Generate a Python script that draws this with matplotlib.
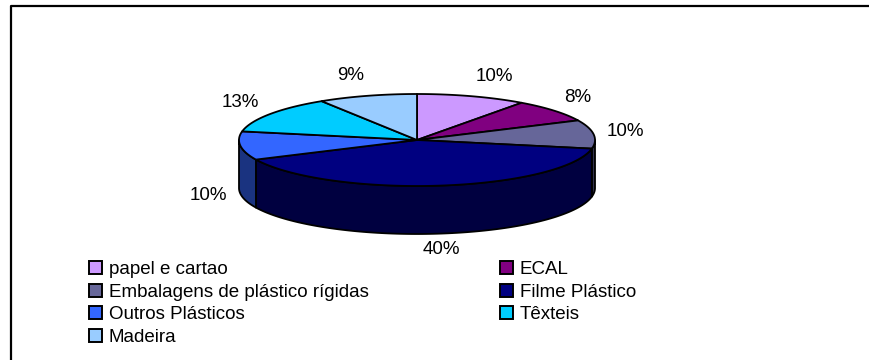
import numpy as np
import matplotlib
matplotlib.use("Agg")
from matplotlib import pyplot as plt
from matplotlib.patches import Polygon, Patch
from matplotlib.colors import to_rgb

plt.rcParams['font.family'] = ['Liberation Sans', 'DejaVu Sans']

categories = ['papel e cartao', 'ECAL', 'Embalagens de plástico rígidas',
              'Filme Plástico', 'Outros Plásticos', 'Têxteis', 'Madeira']
shares = [10, 8, 10, 40, 10, 13, 9]
colors = ['#CC99FF', '#800080', '#666699', '#000080', '#3366FF', '#00CCFF', '#99CCFF']

W, H = 870, 360
cx, cy, rx, ry, depth = 417, 140, 178, 46, 48
fs = 13.5

def rim(t0, t1, drop=0, n=120):
    # points on the ellipse rim, angle measured clockwise from 12 o'clock
    t = np.radians(np.linspace(t0, t1, n))
    return np.column_stack([cx + rx * np.sin(t), cy - ry * np.cos(t) + drop])

fig = plt.figure(figsize=(W / 100, H / 100), dpi=100)
ax = fig.add_axes([0, 0, 1, 1])
ax.set_xlim(0, W)
ax.set_ylim(H, 0)
ax.axis('off')

# chart frame (only top and left edges fall inside the image)
ax.plot([11, 11, W + 5], [H + 5, 6, 6], color='black', lw=1.6, solid_capstyle='butt')

bounds = np.concatenate([[0], np.cumsum(shares)]) * 3.6
edge = dict(edgecolor='black', linewidth=1.3, joinstyle='round')

# outer wall, only the front half (90..270 deg) is visible
for i in range(len(shares)):
    a0, a1 = max(bounds[i], 90), min(bounds[i + 1], 270)
    if a1 <= a0:
        continue
    side = tuple(c * 0.5 for c in to_rgb(colors[i]))
    pts = np.vstack([rim(a0, a1), rim(a1, a0, depth)])
    ax.add_patch(Polygon(pts, closed=True, facecolor=side, **edge))

# top face
for i in range(len(shares)):
    pts = np.vstack([[cx, cy], rim(bounds[i], bounds[i + 1])])
    ax.add_patch(Polygon(pts, closed=True, facecolor=colors[i], **edge))

# percentage labels placed just outside the rim
for i, v in enumerate(shares):
    mid = np.radians((bounds[i] + bounds[i + 1]) / 2)
    s, c = np.sin(mid), np.cos(mid)
    ex = cx + rx * s
    ey = cy - ry * c + (depth if c < 0 else 0)
    x = ex + 13 * s
    y = ey - (21 * c if c > 0 else 16 * c)
    ha = 'center' if abs(s) < 0.2 else ('left' if s > 0 else 'right')
    ax.text(x, y, '%d%%' % v, ha=ha, va='center', fontsize=fs)

# legend laid out row by row in two columns
handles = [Patch(facecolor=col, edgecolor='black', linewidth=1.4) for col in colors]
order = [0, 2, 4, 6, 1, 3, 5]
fig.legend([handles[k] for k in order], [categories[k] for k in order],
           ncol=2, loc='upper left', bbox_to_anchor=(89 / W, 1 - 261 / H),
           frameon=False, fontsize=fs, borderpad=0, borderaxespad=0,
           handlelength=0.68, handleheight=0.68, handletextpad=0.38,
           labelspacing=0.3, columnspacing=7.0)

fig.savefig('out.png', dpi=100)
